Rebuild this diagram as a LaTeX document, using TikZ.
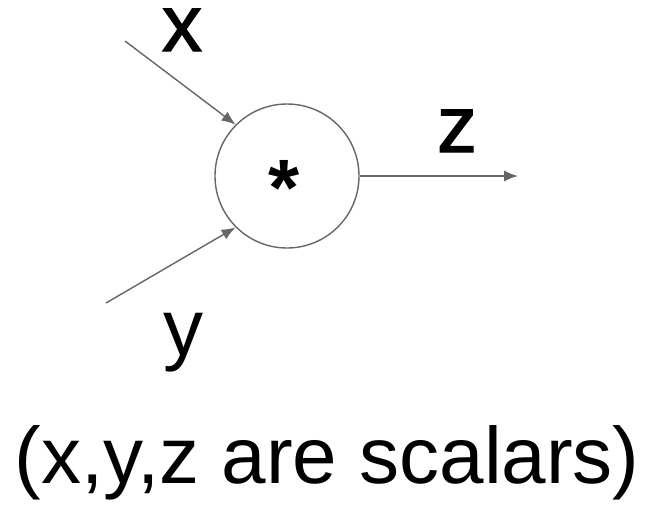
\documentclass[tikz,border=0pt]{standalone}
\usepackage{fontspec}
\setmainfont{Liberation Sans}
\newfontfamily\heavyfont[FakeBold=1.6]{Liberation Sans}
\usetikzlibrary{arrows.meta,positioning}
\definecolor{linegray}{HTML}{666666}

\begin{document}
\begin{tikzpicture}[x=1pt, y=-1pt,
    gate/.style={
        draw=linegray, circle, line width=1.4pt,
        minimum size=144pt, inner sep=0pt
    },
    lbl/.style={
        font=\fontsize{80}{96}\selectfont, inner sep=0pt, anchor=base
    },
    heavylbl/.style={lbl, font=\fontsize{80}{96}\heavyfont},
    oplbl/.style={lbl, font=\fontsize{80}{96}\selectfont\bfseries},
    edge/.style={-{Latex[length=14pt,width=11pt]}, draw=linegray, line width=1.4pt}
]
\useasboundingbox (0,0) rectangle (647,509);

% 1. Multiply gate
\node[gate] (mul) at (287,176) {};
\node[oplbl] (op) at (284,215) {*};

% 2. Inputs and output
\coordinate (xin) at (125,41);
\coordinate (yin) at (106,303);
\coordinate (zout) at (518,176);
\node[heavylbl] (xlbl) at (182,51) {x};
\node[lbl] (ylbl) at (183,355) {y};
\node[heavylbl] (zlbl) at (457,152) {z};

% 3. Caption
\node[lbl] (caption) at (327,483) {(x,y,z are scalars)};

% Connectors
\draw[edge] (xin) -- (mul.135);
\draw[edge] (yin) -- (mul.225);
\draw[edge] (mul.east) -- (zout);

\end{tikzpicture}
\end{document}
